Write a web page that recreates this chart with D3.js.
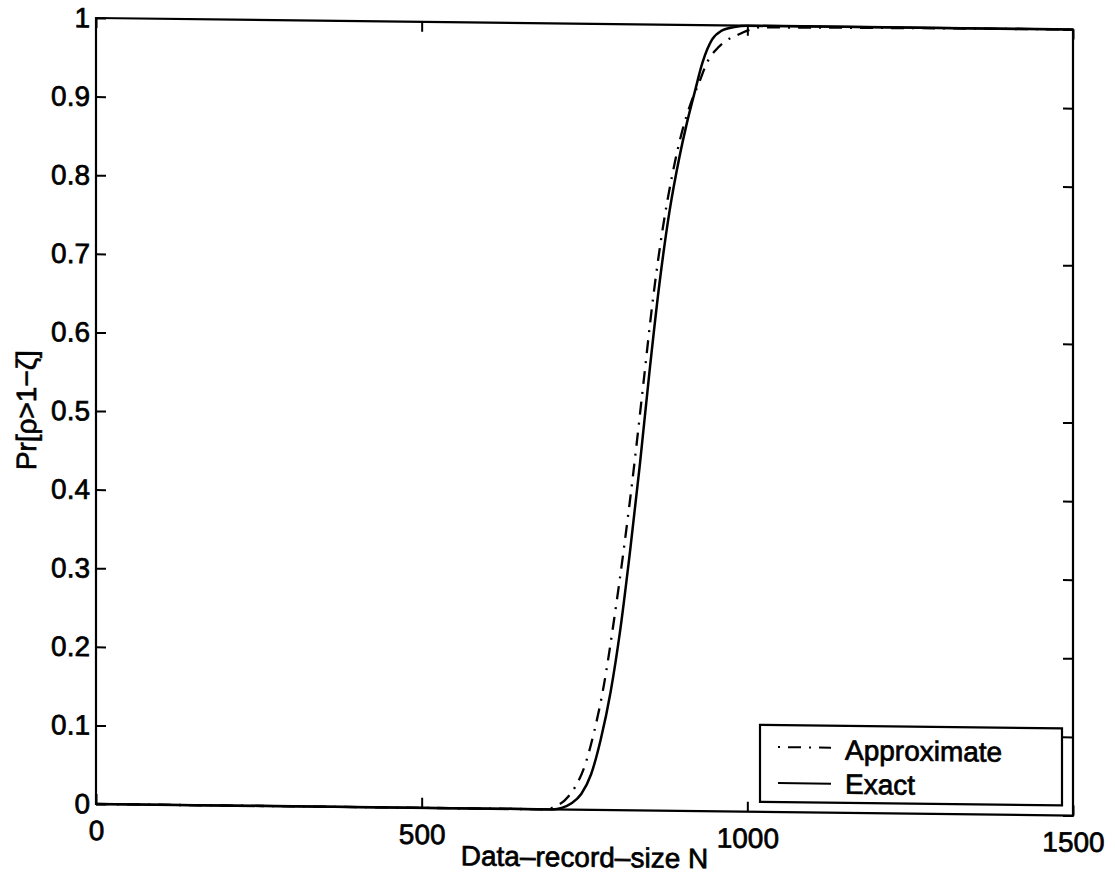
<!DOCTYPE html>
<html>
<head>
<meta charset="utf-8">
<script src="https://cdn.jsdelivr.net/npm/d3@7"></script>
<style>
  html, body { margin: 0; padding: 0; background: #fff; }
  svg { display: block; }
  text { font-family: "Liberation Sans", Arial, Helvetica, sans-serif; fill: #000; }
</style>
</head>
<body>
<svg id="chart" width="1115" height="890"></svg>
<script>
// Probability that the estimate exceeds 1 - zeta, versus data-record size N
const exactN = [0, 700, 715, 730, 745, 760, 775, 790, 805, 820, 835, 850, 865, 880, 896, 906, 919, 931, 946, 960, 980, 1000, 1500];
const exactP = [0, 0, 0.002, 0.008, 0.02, 0.045, 0.09, 0.15, 0.23, 0.33, 0.44, 0.56, 0.67, 0.76, 0.833, 0.871, 0.914, 0.952, 0.982, 0.993, 0.998, 1, 1];

const approxN = [0, 690, 705, 720, 735, 750, 765, 780, 795, 810, 825, 840, 855, 870, 885, 900, 913, 926, 939, 952, 968, 985, 998, 1020, 1500];
const approxP = [0, 0, 0.004, 0.012, 0.028, 0.055, 0.1, 0.16, 0.24, 0.33, 0.43, 0.54, 0.65, 0.74, 0.81, 0.865, 0.90, 0.927, 0.954, 0.969, 0.981, 0.988, 0.993, 0.998, 1];

const xTicks = [0, 500, 1000, 1500];
const yTicks = [0, 0.1, 0.2, 0.3, 0.4, 0.5, 0.6, 0.7, 0.8, 0.9, 1];
const legendLabels = ["Approximate", "Exact"];

const plotL = 96, plotR = 1073, plotT = 18, plotB = 804;
const x = d3.scaleLinear().domain([0, 1500]).range([plotL, plotR]);
const y = d3.scaleLinear().domain([0, 1]).range([plotB, plotT]);

const svg = d3.select("#chart");
// slight downward slant toward the right, as on the printed page
const k = 0.0118;
const g = svg.append("g").attr("transform", `matrix(1,${k},0,1,0,${-k * plotL})`);

const fontSize = 28;
const tickLen = 10;

// plot frame
g.append("rect")
  .attr("x", plotL).attr("y", plotT)
  .attr("width", plotR - plotL).attr("height", plotB - plotT)
  .attr("fill", "none").attr("stroke", "#000").attr("stroke-width", 2.2);

// inward ticks on all four sides
const xAxisB = d3.axisBottom(x).tickValues(xTicks).tickSizeInner(-tickLen).tickSizeOuter(0).tickPadding(16).tickFormat(d3.format("d"));
const xAxisT = d3.axisTop(x).tickValues(xTicks).tickSizeInner(-tickLen).tickSizeOuter(0).tickFormat("");
const yAxisL = d3.axisLeft(y).tickValues(yTicks).tickSizeInner(-tickLen).tickSizeOuter(0).tickPadding(6).tickFormat(d => d3.format("~g")(d));
const yAxisR = d3.axisRight(y).tickValues(yTicks).tickSizeInner(-tickLen).tickSizeOuter(0).tickFormat("");

function styleAxis(sel) {
  sel.select(".domain").remove();
  sel.selectAll(".tick line").attr("stroke", "#000").attr("stroke-width", 2);
  sel.selectAll(".tick text")
    .attr("font-size", fontSize)
    .attr("font-family", "Liberation Sans, Arial, sans-serif")
    .attr("fill", "#000")
    .attr("stroke", "#000").attr("stroke-width", 0.7);
}

g.append("g").attr("transform", `translate(0,${plotB})`).call(xAxisB).call(styleAxis)
  .selectAll(".tick text").attr("dy", "0.72em");
g.append("g").attr("transform", `translate(0,${plotT})`).call(xAxisT).call(styleAxis);
g.append("g").attr("transform", `translate(${plotL},0)`).call(yAxisL).call(styleAxis);
g.append("g").attr("transform", `translate(${plotR},0)`).call(yAxisR).call(styleAxis);

// axis titles
g.append("text")
  .attr("x", (plotL + plotR) / 2).attr("y", 861)
  .attr("text-anchor", "middle")
  .attr("font-size", fontSize)
  .attr("stroke", "#000").attr("stroke-width", 0.7)
  .text("Data\u2013record\u2013size N");

g.append("text")
  .attr("transform", `translate(36,${(plotT + plotB) / 2}) rotate(-90)`)
  .attr("text-anchor", "middle")
  .attr("font-size", fontSize)
  .attr("stroke", "#000").attr("stroke-width", 0.7)
  .text("Pr[\u03C1>1\u2212\u03B6]");

// curves
const line = d3.line().x(d => x(d[0])).y(d => y(d[1])).curve(d3.curveMonotoneX);
const exact = exactN.map((n, i) => [n, exactP[i]]);
const approx = approxN.map((n, i) => [n, approxP[i]]);

const dashDot = "13,8,2,8";

g.append("path").datum(approx)
  .attr("d", line).attr("fill", "none")
  .attr("stroke", "#000").attr("stroke-width", 2.3)
  .attr("stroke-dasharray", dashDot);

g.append("path").datum(exact)
  .attr("d", line).attr("fill", "none")
  .attr("stroke", "#000").attr("stroke-width", 2.5);

// legend
const lg = g.append("g");
lg.append("rect")
  .attr("x", 760).attr("y", 717).attr("width", 302).attr("height", 77)
  .attr("fill", "#fff").attr("stroke", "#000").attr("stroke-width", 2.2);

const rows = [
  { label: legendLabels[0], dash: "2,8,13,8", ly: 739, ty: 751 },
  { label: legendLabels[1], dash: null, ly: 775, ty: 785 }
];
rows.forEach(r => {
  lg.append("line")
    .attr("x1", 778).attr("x2", 831).attr("y1", r.ly).attr("y2", r.ly)
    .attr("stroke", "#000").attr("stroke-width", 2)
    .attr("stroke-dasharray", r.dash);
  lg.append("text")
    .attr("x", 845).attr("y", r.ty)
    .attr("font-size", fontSize)
    .attr("stroke", "#000").attr("stroke-width", 0.7)
    .text(r.label);
});
</script>
</body>
</html>
